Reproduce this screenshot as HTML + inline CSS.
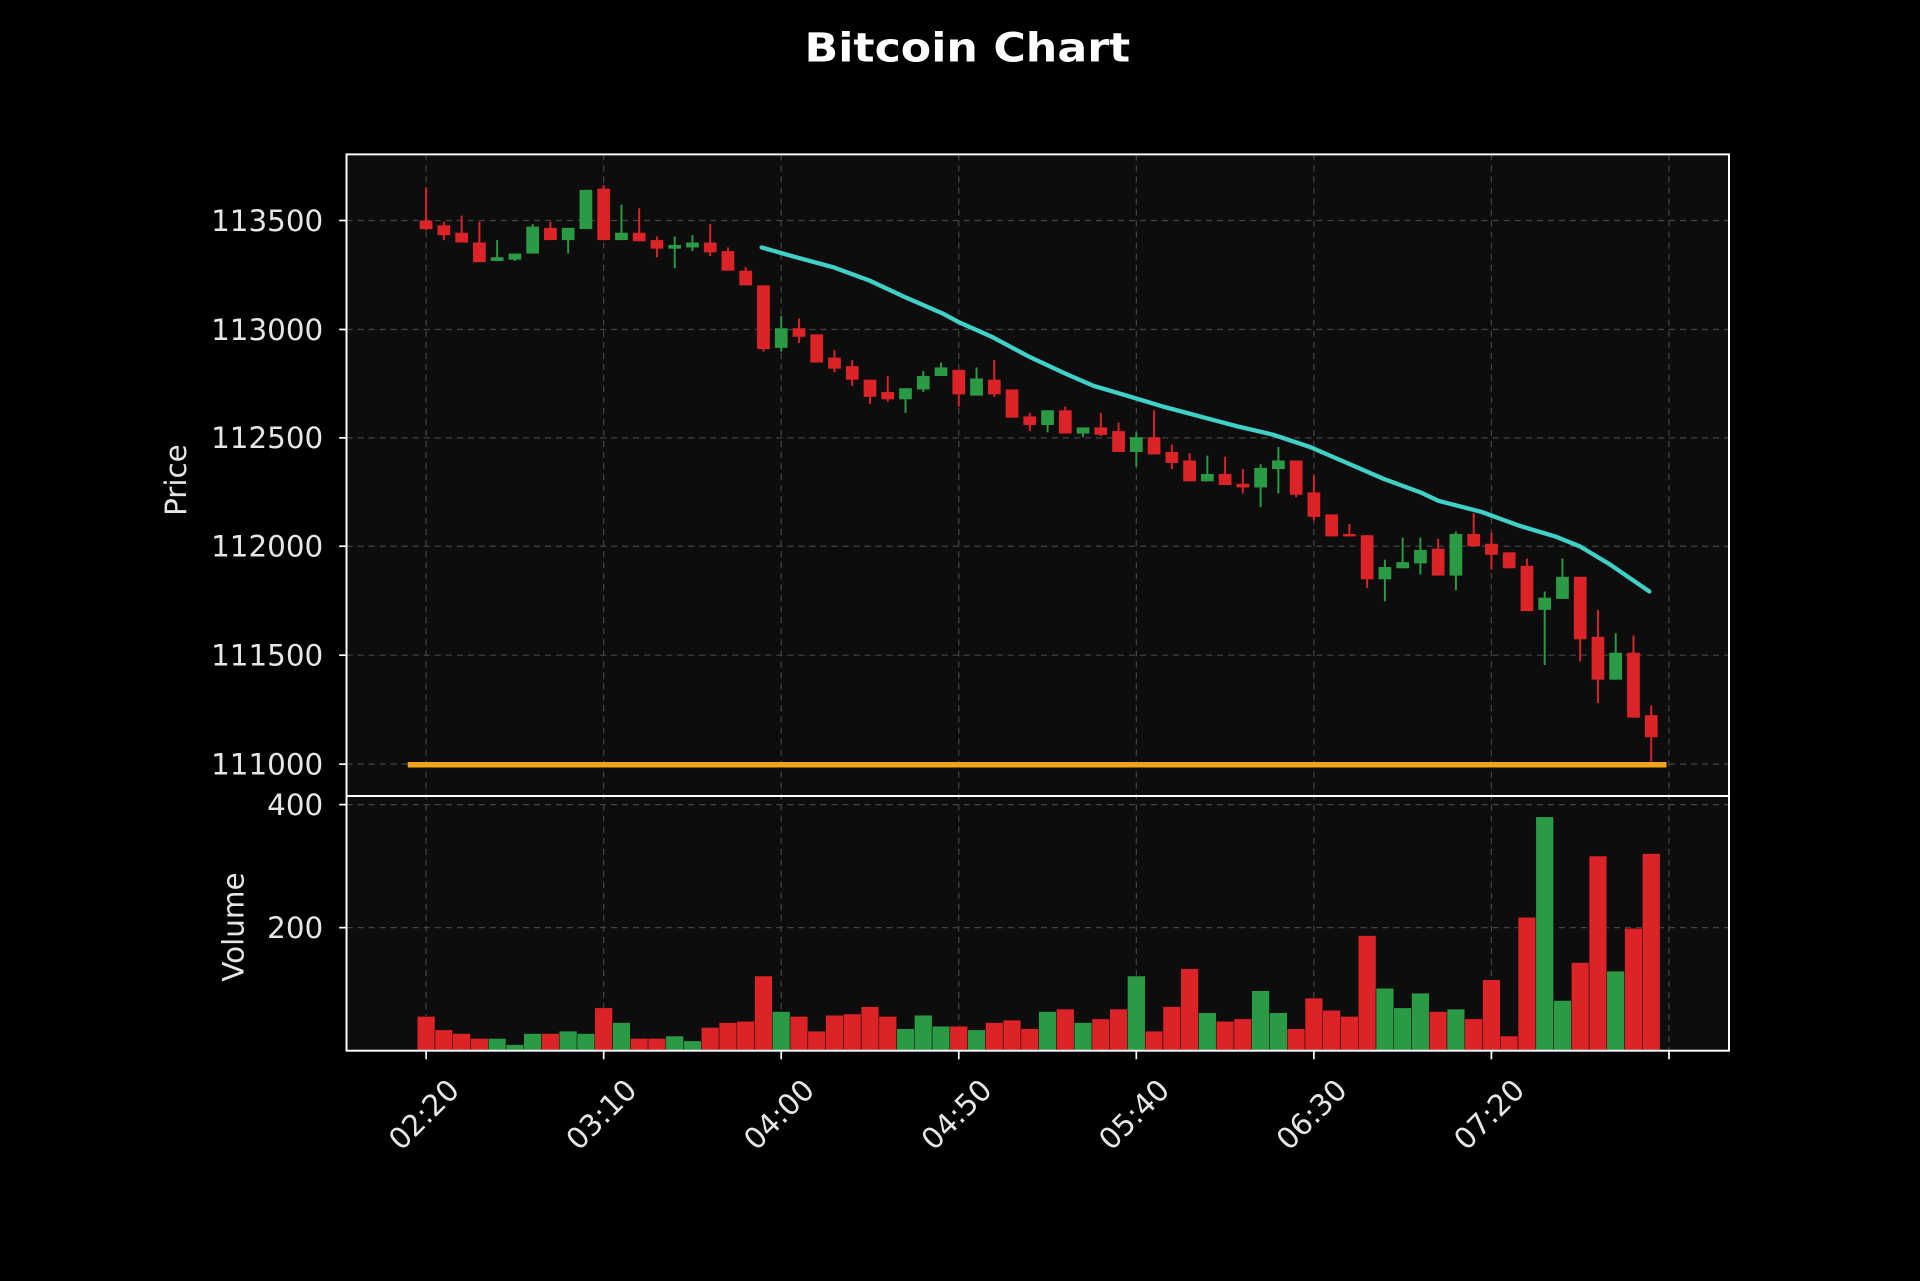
<!DOCTYPE html>
<html><head><meta charset="utf-8">
<style>html,body{margin:0;padding:0;background:#000;}svg{display:block;}</style>
</head><body>
<svg id="s" xmlns="http://www.w3.org/2000/svg" width="1920" height="1281" viewBox="0 0 1568 1046" font-family="DejaVu Sans, Liberation Sans, sans-serif">
<rect width="1568" height="1046" fill="#000"/>
<text x="790" y="50" text-anchor="middle" font-weight="bold" font-size="33" fill="#fff" textLength="266" lengthAdjust="spacingAndGlyphs">Bitcoin Chart</text>
<rect x="283" y="126" width="1129" height="732" fill="#0d0d0d"/>
<g id="grid" stroke="#444" stroke-width="1" stroke-dasharray="5,4"></g>
<g id="c"></g>
<polyline fill="none" stroke="#3fd0c8" stroke-width="3.5" stroke-linecap="round" stroke-linejoin="round" points="622,202 650,210 680,218 710,229 740,243 770,256 783,263 810,275 840,291 870,305 893,315 920,323 950,332 980,340 1010,348 1040,355 1070,365 1100,378 1130,391 1160,402 1175,409 1210,418 1240,429 1270,438 1290,446 1315,461 1347,483"/>
<line x1="333" y1="624.5" x2="1361" y2="624.5" stroke="#f5a11a" stroke-width="4.5"/>
<rect x="283" y="126" width="1129" height="524" fill="none" stroke="#fff" stroke-width="1.6"/>
<rect x="283" y="650" width="1129" height="208" fill="none" stroke="#fff" stroke-width="1.6"/>
<g id="t" fill="#e6e6e6" font-size="24"></g>
<text transform="translate(152,392) rotate(-90)" text-anchor="middle" fill="#e6e6e6" font-size="24">Price</text>
<text transform="translate(199,757) rotate(-90)" text-anchor="middle" fill="#e6e6e6" font-size="24">Volume</text>
</svg>
<script>
var NS="http://www.w3.org/2000/svg";
function el(p,n,a,txt){var e=document.createElementNS(NS,n);for(var k in a)e.setAttribute(k,a[k]);if(txt)e.textContent=txt;p.appendChild(e);return e;}
var g=document.getElementById('grid'),c=document.getElementById('c'),t=document.getElementById('t');
var R="#dc2328",G="#2b9a45";
var d=[
[R,180,187,153,188],[R,184,192,181,196],[R,190,198,176,198],[R,198,214,181,214],[G,210,213,196,213],
[G,207,212,207,213],[G,185,207,183,207],[R,186,196,181,196],[G,186,196,186,207],[G,155,187,155,187],
[R,154,196,151,196],[G,190,196,167,196],[R,190,197,170,197],[R,196,203,193,210],[G,200,203,193,219],
[G,198,202,192,205],[R,198,206,183,209],[R,205,221,202,221],[R,221,233,218,233],[R,233,285,233,287],
[G,268,284,258,287],[R,268,275,260,280],[R,273,296,273,296],[R,292,301,286,304],[R,299,310,294,315],
[R,310,324,310,330],[R,320,326,307,328],[G,317,326,317,337],[G,307,318,303,320],[G,300,307,296,307],
[R,302,322,302,332],[G,309,323,300,323],[R,310,322,294,324],[R,318,341,318,341],[R,340,347,337,352],
[G,335,347,335,353],[R,335,354,332,354],[G,349,354,349,357],[R,349,355,337,356],[R,352,369,345,369],
[G,357,369,353,381],[R,357,371,335,371],[R,369,378,363,383],[R,376,393,370,393],[G,387,393,372,393],
[R,387,396,373,396],[R,395,398,383,403],[G,382,398,379,414],[G,376,383,365,403],[R,376,404,376,406],
[R,402,422,388,425],[R,420,438,420,438],[R,436,438,428,438],[R,437,473,437,480],[G,463,473,457,491],
[G,459,464,439,464],[G,449,460,439,469],[R,448,470,440,470],[G,436,470,434,482],[R,436,446,419,446],
[R,444,453,435,465],[R,451,464,451,464],[R,462,499,456,499],[G,488,498,483,543],[G,471,489,456,489],
[R,471,522,471,540],[R,520,555,498,574],[G,533,555,517,555],[R,533,586,519,586],[R,584,602,576,622]];
var vols=[830,841,844,848,848,853,844,844,842,844,823,835,848,848,846,850,839,835,834,797,826,830,
842,829,828,822,830,840,829,838,838,841,835,833,840,826,824,835,832,824,797,842,822,791,827,834,832,809,827,840,
815,825,830,764,807,823,811,826,824,832,800,846,749,667,817,786,699,793,758,697];
var x0=348,dx=14.5;
for(var i=0;i<=7;i++){var x=x0+i*10*dx;el(g,'line',{x1:x,y1:126,x2:x,y2:858});
 el(t,'line',{x1:x,y1:858,x2:x,y2:865,stroke:'#fff','stroke-width':1.4});
 if(i<7){var lb=['02:20','03:10','04:00','04:50','05:40','06:30','07:20'][i];
 el(t,'text',{transform:'translate('+(x+4)+',916) rotate(-45)','text-anchor':'middle'},lb);}}
var py=[[113500,180],[113000,269],[112500,357.5],[112000,446],[111500,535],[111000,624]];
py.forEach(function(p){el(g,'line',{x1:283,y1:p[1],x2:1412,y2:p[1]});
 el(t,'line',{x1:277,y1:p[1],x2:283,y2:p[1],stroke:'#fff','stroke-width':1.4});
 el(t,'text',{x:264,y:p[1]+8.5,'text-anchor':'end'},String(p[0]));});
[[400,657],[200,757.5]].forEach(function(p){el(g,'line',{x1:283,y1:p[1],x2:1412,y2:p[1]});
 el(t,'line',{x1:277,y1:p[1],x2:283,y2:p[1],stroke:'#fff','stroke-width':1.4});
 el(t,'text',{x:264,y:p[1]+8.5,'text-anchor':'end'},String(p[0]));});
for(var i=0;i<d.length;i++){var x=x0+i*dx,q=d[i];
 el(c,'line',{x1:x,y1:q[3],x2:x,y2:q[4],stroke:q[0],'stroke-width':1.6});
 el(c,'rect',{x:x-5.2,y:q[1],width:10.4,height:Math.max(2,q[2]-q[1]),fill:q[0]});
 el(c,'rect',{x:x-7.25,y:vols[i],width:14.5,height:858-vols[i],fill:q[0],stroke:'#0d0d0d','stroke-width':0.4});}
</script>
</body></html>
